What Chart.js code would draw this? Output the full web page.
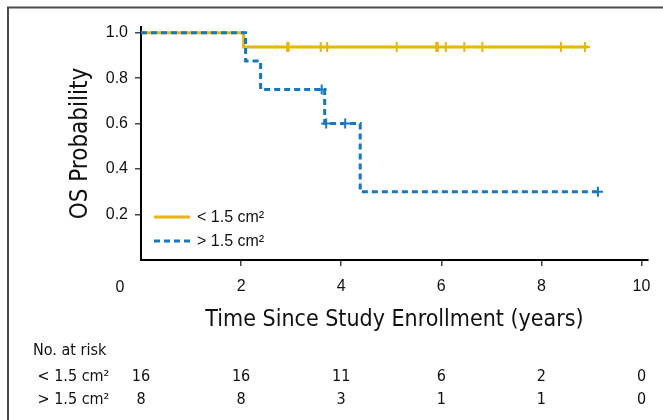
<!DOCTYPE html>
<html>
<head>
<meta charset="utf-8">
<script src="https://cdn.jsdelivr.net/npm/chart.js@4.4.1/dist/chart.umd.min.js"></script>
<style>
  html, body { margin: 0; padding: 0; background: #fff; }
  #wrap { width: 663px; height: 420px; position: relative; }
</style>
</head>
<body>
<div id="wrap"><canvas id="chartKM"></canvas></div>
<script>
/* Kaplan-Meier OS by tumour size */
const grupoLabels = ['< 1.5 cm\u00B2', '> 1.5 cm\u00B2'];

// curva < 1.5 cm2
const tempoPeq  = [0, 2.05, 8.93];
const survPeq   = [1, 0.9375, 0.9375];
const censPeqX  = [2.92, 2.95, 3.59, 3.72, 5.11, 5.90, 5.93, 6.09, 6.46, 6.82, 8.39, 8.87];
const censPeqY  = [0.9375, 0.9375, 0.9375, 0.9375, 0.9375, 0.9375, 0.9375, 0.9375, 0.9375, 0.9375, 0.9375, 0.9375];

// curva > 1.5 cm2
const tempoGrd  = [0, 2.09, 2.39, 3.67, 4.38, 9.13];
const survGrd   = [1, 0.875, 0.75, 0.6, 0.3, 0.3];
const censGrdX  = [3.61, 3.70, 4.08, 9.13];
const censGrdY  = [0.75, 0.6, 0.6, 0.3];

// tabela de risco
const riscoTempos = [0, 2, 4, 6, 8, 10];
const riscoPeq    = [16, 16, 11, 6, 2, 0];
const riscoGrd    = [8, 8, 3, 1, 1, 0];

const AMARELO = '#E8B50A';
const AZUL    = '#1578C2';
const NARROW  = '"Liberation Sans Narrow", "DejaVu Sans Condensed", "Liberation Sans", sans-serif';
const SANS    = '"Liberation Sans", Arial, sans-serif';

const pares = (xs, ys) => xs.map((x, i) => ({ x, y: ys[i] }));

const molduraPlugin = {
    id: 'moldura',
    beforeDraw(chart) {
        const ctx = chart.ctx;
        ctx.save();
        ctx.strokeStyle = '#4a4a4a';
        ctx.lineWidth = 2;
        ctx.beginPath();
        ctx.moveTo(8, 7.5); ctx.lineTo(chart.width, 7.5);
        ctx.moveTo(8, 6.5); ctx.lineTo(8, chart.height);
        ctx.stroke();
        ctx.restore();
    }
};

const legendaPlugin = {
    id: 'legendaKM',
    afterDraw(chart) {
        const ctx = chart.ctx;
        const area = chart.chartArea;
        const x0 = area.left + 13;
        const ys = [area.bottom - 43, area.bottom - 19];
        const estilos = [
            { cor: AMARELO, dash: [] },
            { cor: AZUL, dash: [6, 4] }
        ];
        ctx.save();
        ctx.font = '16px ' + SANS;
        ctx.textBaseline = 'middle';
        ctx.fillStyle = '#111';
        grupoLabels.forEach((lab, i) => {
            ctx.strokeStyle = estilos[i].cor;
            ctx.setLineDash(estilos[i].dash);
            ctx.lineWidth = 3;
            ctx.beginPath();
            ctx.moveTo(x0, ys[i]); ctx.lineTo(x0 + 36, ys[i]);
            ctx.stroke();
            ctx.fillText(lab, x0 + 43, ys[i] + 1);
        });
        ctx.restore();
    }
};

const riscoPlugin = {
    id: 'tabelaRisco',
    afterDraw(chart) {
        const ctx = chart.ctx;
        const xs = chart.scales.x;
        ctx.save();
        ctx.fillStyle = '#111';
        ctx.textBaseline = 'middle';

        // rótulo "0" do eixo x fica deslocado à esquerda
        ctx.font = '16px ' + SANS;
        ctx.textAlign = 'center';
        ctx.fillText('0', xs.getPixelForValue(0) - 21, 288);

        ctx.font = '16px ' + NARROW;
        ctx.textAlign = 'left';
        ctx.fillText('No. at risk', 33, 351);
        ctx.fillText(' ' + grupoLabels[0], 33, 377);
        ctx.fillText(' ' + grupoLabels[1], 33, 400);

        ctx.textAlign = 'center';
        riscoTempos.forEach((t, i) => {
            const px = xs.getPixelForValue(t);
            ctx.fillText(String(riscoPeq[i]), px, 377);
            ctx.fillText(String(riscoGrd[i]), px, 400);
        });
        ctx.restore();
    }
};

new Chart(document.getElementById('chartKM'), {
    type: 'scatter',
    data: {
        datasets: [
            {
                label: grupoLabels[0],
                data: pares(tempoPeq, survPeq),
                showLine: true,
                stepped: 'before',
                borderColor: AMARELO,
                borderWidth: 3,
                pointRadius: 0,
                order: 2
            },
            {
                label: grupoLabels[0] + ' censored',
                data: pares(censPeqX, censPeqY),
                showLine: false,
                pointStyle: 'cross',
                pointRadius: 5,
                borderColor: AMARELO,
                borderWidth: 2,
                order: 2
            },
            {
                label: grupoLabels[1],
                data: pares(tempoGrd, survGrd),
                showLine: true,
                stepped: 'before',
                borderColor: AZUL,
                borderWidth: 3,
                borderDash: [6, 4],
                pointRadius: 0,
                order: 1
            },
            {
                label: grupoLabels[1] + ' censored',
                data: pares(censGrdX, censGrdY),
                showLine: false,
                pointStyle: 'cross',
                pointRadius: 5,
                borderColor: AZUL,
                borderWidth: 2,
                order: 1
            }
        ]
    },
    options: {
        responsive: true,
        maintainAspectRatio: false,
        animation: false,
        layout: { padding: { left: 0, top: 27, right: 15, bottom: 70 } },
        plugins: {
            legend: { display: false },
            tooltip: { enabled: false }
        },
        scales: {
            x: {
                type: 'linear',
                min: 0,
                max: 10.13,
                afterFit: s => { s.height = 90; },
                afterBuildTicks: s => { s.ticks = s.ticks.filter(t => t.value > 0 && t.value <= 10); },
                ticks: {
                    stepSize: 2,
                    includeBounds: false,
                    padding: 11,
                    color: '#111',
                    font: { family: SANS, size: 16 },
                    maxRotation: 0
                },
                grid: { drawOnChartArea: false, drawTicks: true, tickLength: 6, color: '#444', lineWidth: 1.5 },
                border: { display: true, color: '#000', width: 2 },
                title: {
                    display: true,
                    text: 'Time Since Study Enrollment (years)',
                    color: '#111',
                    font: { family: NARROW, size: 23 },
                    padding: { top: 0, bottom: 16 }
                }
            },
            y: {
                min: 0,
                max: 1.025,
                afterFit: s => { s.width = 141; },
                afterBuildTicks: s => { s.ticks = s.ticks.filter(t => t.value > 0.1 && t.value < 1.01); },
                ticks: {
                    stepSize: 0.2,
                    includeBounds: false,
                    padding: 7,
                    color: '#111',
                    font: { family: SANS, size: 16 },
                    callback: v => Number(v).toFixed(1)
                },
                grid: { drawOnChartArea: false, drawTicks: true, tickLength: 6, color: '#444', lineWidth: 1.5 },
                border: { display: true, color: '#000', width: 2 },
                title: {
                    display: true,
                    text: 'OS Probability',
                    color: '#111',
                    font: { family: NARROW, size: 24 },
                    padding: { top: 66, bottom: 0 }
                }
            }
        }
    },
    plugins: [molduraPlugin, legendaPlugin, riscoPlugin]
});
</script>
</body>
</html>
